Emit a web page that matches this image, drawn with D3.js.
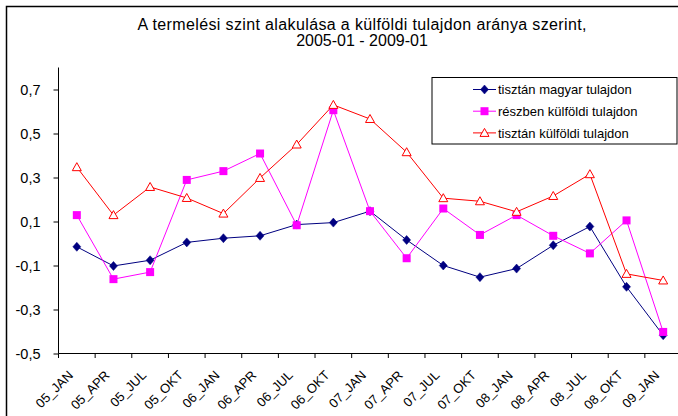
<!DOCTYPE html>
<html><head><meta charset="utf-8">
<script src="https://cdn.jsdelivr.net/npm/d3@7"></script>
<style>
html,body{margin:0;padding:0;background:#fff;}
svg{display:block;font-family:"Liberation Sans",Arial,sans-serif;}
</style></head>
<body>
<svg id="chart" width="678" height="416"></svg>
<script>
const categories = ["05_JAN","05_APR","05_JUL","05_OKT","06_JAN","06_APR","06_JUL","06_OKT","07_JAN","07_APR","07_JUL","07_OKT","08_JAN","08_APR","08_JUL","08_OKT","09_JAN"];
const magyar   = [-0.015,-0.102,-0.076,0.005,0.024,0.035,0.086,0.095,0.147,0.016,-0.100,-0.153,-0.114,-0.008,0.077,-0.197,-0.417];
const reszben  = [0.129,-0.162,-0.130,0.289,0.329,0.409,0.083,0.606,0.147,-0.067,0.159,0.039,0.129,0.035,-0.045,0.105,-0.402];
const kulfoldi = [0.347,0.129,0.257,0.207,0.136,0.298,0.450,0.630,0.566,0.415,0.206,0.192,0.144,0.216,0.315,-0.138,-0.168];
const seriesNames = ["tisztán magyar tulajdon","részben külföldi tulajdon","tisztán külföldi tulajdon"];
const yTicks = [-0.5,-0.3,-0.1,0.1,0.3,0.5,0.7];
const titleLines = ["A termelési szint alakulása a külföldi tulajdon aránya szerint,","2005-01 - 2009-01"];

const svg = d3.select("#chart");
svg.append("rect").attr("width",678).attr("height",416).attr("fill","#fff");
// outer chart border (clipped on right/bottom)
svg.append("path").attr("d","M6.5,430V6.5H700").attr("fill","none").attr("stroke","#000").attr("stroke-width",1.5);

const x = d3.scaleBand().domain(categories).range([58.5,681.5]).padding(0);
const y = d3.scaleLinear().domain([-0.5,0.8]).range([353.5,67.5]);
const cx = c => x(c) + x.bandwidth()/2;

// Title
const tg = svg.append("g");
tg.selectAll("text").data(titleLines).join("text")
  .attr("x",362).attr("y",(d,i)=>29.5+i*16)
  .attr("text-anchor","middle").attr("font-size",16).attr("fill","#000")
  .text(d=>d);
tg.select("text").attr("textLength",449).attr("lengthAdjust","spacing");

// Y axis
const yAxis = d3.axisLeft(y).tickValues(yTicks).tickSize(5).tickPadding(13)
  .tickFormat(d=>d3.format(".1f")(d).replace(".",",").replace("−","-"));
const gy = svg.append("g").attr("transform","translate(58.5,0)").call(yAxis);
gy.select(".domain").attr("d","M0,67.5V353.5").attr("stroke","#000");
gy.selectAll(".tick line").attr("stroke","#000");
gy.selectAll(".tick text").attr("font-size",14.5).attr("font-family","Liberation Sans, Arial, sans-serif").attr("fill","#000");

// X axis line + boundary ticks
const gx = svg.append("g");
gx.append("line").attr("x1",x.range()[0]).attr("x2",x.range()[1]).attr("y1",353.5).attr("y2",353.5).attr("stroke","#000");
const bounds = categories.map(c=>x(c)).concat([x.range()[1]]);
gx.selectAll("line.tk").data(bounds).join("line").attr("class","tk")
  .attr("x1",d=>d).attr("x2",d=>d).attr("y1",353.5).attr("y2",358).attr("stroke","#000");
gx.selectAll("text").data(categories).join("text")
  .attr("transform",d=>`translate(${cx(d)-3},${376}) rotate(-45)`)
  .attr("text-anchor","end").attr("font-size",13).attr("fill","#000").text(d=>d);

// Series
const seriesData = [magyar, reszben, kulfoldi];
const colors = ["#000080","#FF00FF","#FF0000"];
const line = d3.line().x((d,i)=>cx(categories[i])).y(d=>y(d));
function marker(g, type, color){
  if(type===0){
    g.append("path").attr("d","M0,-4.5L4,0L0,4.5L-4,0Z").attr("fill",color).attr("stroke",color).attr("stroke-width",0.5);
  } else if(type===1){
    g.append("rect").attr("x",-4).attr("y",-4).attr("width",8).attr("height",8).attr("fill",color);
  } else {
    g.append("path").attr("d","M0,-4.5L4.5,3.5L-4.5,3.5Z").attr("fill","#fff").attr("stroke",color).attr("stroke-width",1);
  }
}
seriesData.forEach((vals,si)=>{
  const g = svg.append("g");
  g.append("path").datum(vals).attr("d",line).attr("fill","none").attr("stroke",colors[si]).attr("stroke-width",1);
  vals.forEach((v,i)=>{
    const m = g.append("g").attr("transform",`translate(${cx(categories[i])},${y(v)})`);
    marker(m, si, colors[si]);
  });
});

// Legend
const lg = svg.append("g");
lg.append("rect").attr("x",432).attr("y",77.5).attr("width",245).attr("height",66.5).attr("fill","#fff").attr("stroke","#000").attr("stroke-width",1);
seriesNames.forEach((n,i)=>{
  const yy = 89.5 + i*21.7;
  lg.append("line").attr("x1",473).attr("x2",496).attr("y1",yy).attr("y2",yy).attr("stroke",colors[i]);
  const m = lg.append("g").attr("transform",`translate(484.5,${yy})`);
  marker(m,i,colors[i]);
  lg.append("text").attr("x",498).attr("y",yy+4.7).attr("font-size",13).attr("fill","#000").text(n);
});
</script>
</body></html>
